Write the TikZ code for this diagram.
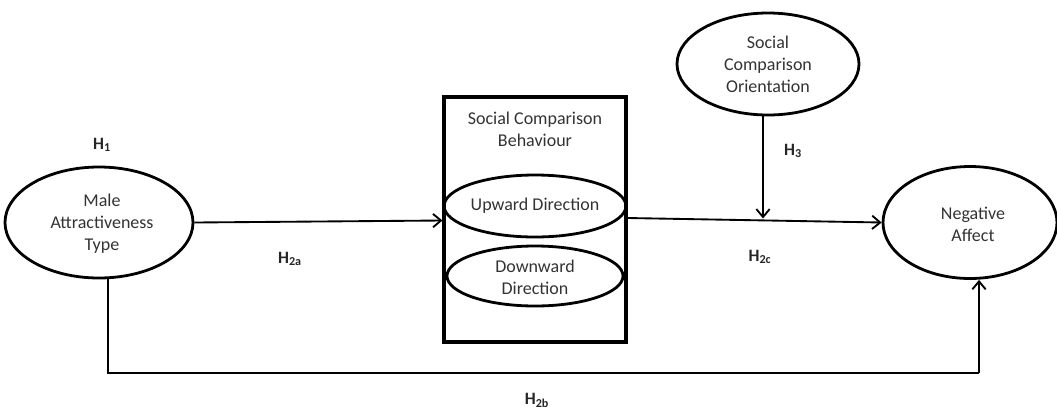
\documentclass[tikz,border=0pt]{standalone}
\usepackage{fontspec}
\setmainfont{Carlito}
\usetikzlibrary{shapes.geometric,arrows.meta}
\begin{document}
\begin{tikzpicture}[x=0.75pt,y=-0.75pt,
  every node/.style={font=\fontsize{13.5}{16.5}\selectfont, text=black!80, align=center},
  oval/.style={ellipse, draw=black, line width=2.1pt, inner sep=0pt},
  frame/.style={rectangle, draw=black, line width=2.3pt, inner sep=0pt},
  conn/.style={draw=black, line width=1.4pt},
  arr/.style={conn, -{Straight Barb[length=6pt,width=10pt,line width=1.4pt]}},
  hlab/.style={font=\fontsize{13}{15}\selectfont\bfseries, text=black!85}
]
\useasboundingbox (0,0) rectangle (1057,412);

\node[oval, minimum width=141pt, minimum height=83.25pt] (male) at (99,222.5) {};
\node at (102,224) {Male\\Attractiveness\\Type};

\node[frame, minimum width=136.5pt, minimum height=183.75pt] (box) at (535,219.5) {};
\node at (535,129) {Social Comparison\\Behaviour};
\node[oval, minimum width=135pt, minimum height=46.5pt] (up) at (535,206) {Upward Direction};
\node[oval, minimum width=132pt, minimum height=45pt] (down) at (535,276) {};
\node at (535,277) {Downward\\Direction};

\node[oval, minimum width=136.5pt, minimum height=76.5pt] (sco) at (768,64) {};
\node at (768,64.5) {Social\\Comparison\\Orientation};

\node[oval, minimum width=130.5pt, minimum height=84pt] (neg) at (970,222.5) {};
\node at (973,224) {Negative\\Affect};

\node[hlab] (h1) at (102,145) {H\textsubscript{1}};
\node[hlab] (h2a) at (290,259) {H\textsubscript{2a}};
\node[hlab] (h3) at (793,151) {H\textsubscript{3}};
\node[hlab] (h2c) at (760,257) {H\textsubscript{2c}};
\node[hlab] (h2b) at (537,400) {H\textsubscript{2b}};

\coordinate (mid) at (763,218.5);
\coordinate (bl) at (108,373);
\coordinate (br) at (979,373);

\draw[arr] (male.east) -- (box.west |- 0,220.5);
\draw[arr] (box.east |- 0,218) -- (neg.west);
\draw[arr] (sco.south -| mid) -- (mid);
\draw[conn] ([xshift=6.75pt]male.south) -- (bl) -- (br);
\draw[arr] (br) -- ([xshift=6.75pt]neg.south);
\end{tikzpicture}
\end{document}
